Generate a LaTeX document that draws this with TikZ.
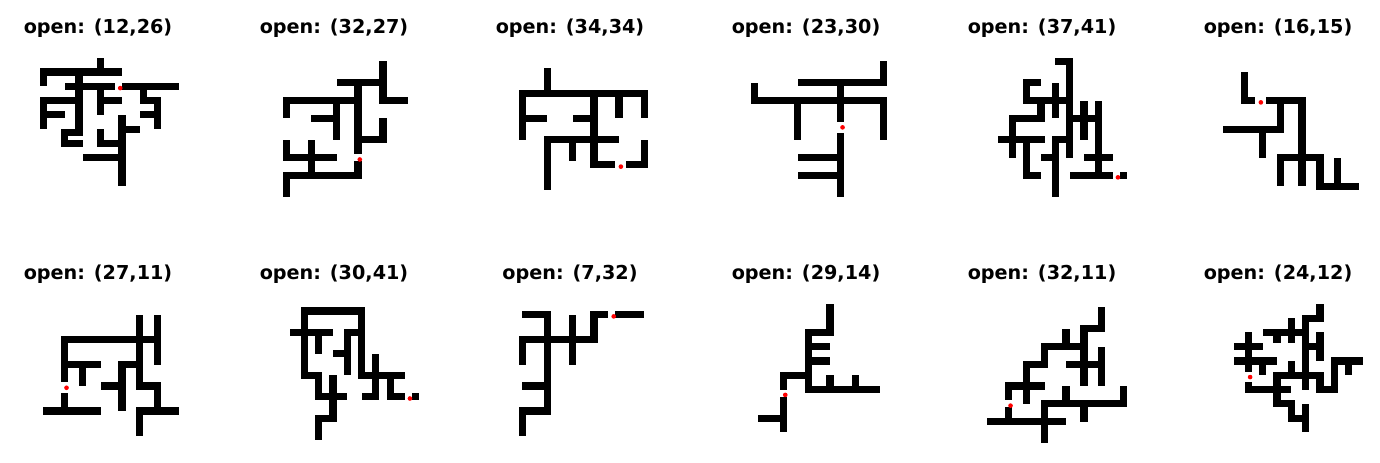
\documentclass[tikz,border=0pt]{standalone}
\usepackage{fontspec}
\setmainfont{DejaVu Sans}
\newcommand{\Bx}[4]{\fill (#1,#2) rectangle (#3,#4);}
\newcommand{\RedDot}[2]{\fill[red] (#2+0.5,#1+0.5) circle (0.65);}
\tikzset{
  ttl/.style={font=\fontsize{9.6}{11}\selectfont\bfseries, anchor=base, inner sep=0pt},
  panel/.style={x=1.79pt, y=-1.785pt}
}
\begin{document}
\begin{tikzpicture}[x=0.5pt,y=-0.5pt]
\useasboundingbox[fill=white] (0,0) rectangle (1380,462);
% titles
\node[ttl] (t1) at (98,33) {open: (12,26)};
\node[ttl] (t2) at (334,33) {open: (32,27)};
\node[ttl] (t3) at (570,33) {open: (34,34)};
\node[ttl] (t4) at (806,33) {open: (23,30)};
\node[ttl] (t5) at (1042,33) {open: (37,41)};
\node[ttl] (t6) at (1278,33) {open: (16,15)};
\node[ttl] (t7) at (98,279) {open: (27,11)};
\node[ttl] (t8) at (334,279) {open: (30,41)};
\node[ttl] (t9) at (570,279) {open: (7,32)};
\node[ttl] (t10) at (806,279) {open: (29,14)};
\node[ttl] (t11) at (1042,279) {open: (32,11)};
\node[ttl] (t12) at (1278,279) {open: (24,12)};
% panel 1
\begin{scope}[shift={(25.35,43.45)},panel]
\Bx{20}{4}{22}{7} \Bx{4}{7}{27}{9} \Bx{4}{7}{6}{12} \Bx{11}{11}{25}{13}
\Bx{14}{7}{16}{26} \Bx{20}{11}{22}{20} \Bx{20}{15}{27}{17} \Bx{27}{11}{43}{13}
\Bx{32}{13}{34}{17} \Bx{32}{15}{38}{17} \Bx{36}{15}{38}{24} \Bx{32}{19}{38}{21}
\Bx{4}{15}{16}{17} \Bx{4}{15}{6}{24} \Bx{4}{19}{11}{21}
\Bx{10}{24}{16}{26} \Bx{10}{24}{12}{29} \Bx{10}{27}{16}{29}
\Bx{26}{20}{28}{40} \Bx{26}{23}{32}{25} \Bx{20}{24}{22}{29} \Bx{20}{27}{28}{29}
\Bx{16}{31}{28}{33}
\RedDot{12}{26}
\end{scope}
% panel 2
\begin{scope}[shift={(261.35,43.45)},panel]
\Bx{33}{5}{35}{16} \Bx{33}{15}{41}{17} \Bx{21}{10}{35}{12} \Bx{26}{10}{28}{31}
\Bx{6}{15}{28}{17} \Bx{6}{15}{8}{21} \Bx{20}{16}{22}{27} \Bx{14}{20}{22}{22}
\Bx{33}{21}{35}{28} \Bx{28}{26}{35}{28} \Bx{6}{27}{8}{33} \Bx{6}{31}{21}{33}
\Bx{13}{27}{15}{36} \Bx{6}{36}{28}{38} \Bx{6}{36}{8}{43} \Bx{26}{33}{28}{38}
\RedDot{32}{27}
\end{scope}
% panel 3
\begin{scope}[shift={(497.35,43.45)},panel]
\Bx{13}{7}{15}{14} \Bx{6}{13}{42}{15} \Bx{6}{13}{8}{27} \Bx{8}{20}{14}{22}
\Bx{21}{20}{28}{22} \Bx{26}{13}{28}{35} \Bx{33}{15}{35}{21} \Bx{40}{15}{42}{21}
\Bx{13}{26}{34}{28} \Bx{13}{26}{15}{41} \Bx{20}{28}{22}{33} \Bx{26}{33}{33}{35}
\Bx{36}{33}{42}{35} \Bx{40}{27}{42}{35}
\RedDot{34}{34}
\end{scope}
% panel 4
\begin{scope}[shift={(733.35,43.45)},panel]
\Bx{41}{5}{43}{12} \Bx{18}{10}{43}{12} \Bx{29}{12}{31}{22} \Bx{5}{11}{7}{17}
\Bx{5}{15}{43}{17} \Bx{17}{17}{19}{27} \Bx{41}{17}{43}{27} \Bx{29}{25}{31}{43}
\Bx{18}{31}{29}{33} \Bx{18}{36}{29}{38}
\RedDot{23}{30}
\end{scope}
% panel 5
\begin{scope}[shift={(969.35,43.45)},panel]
\Bx{24}{4}{29}{6} \Bx{27}{4}{29}{32} \Bx{15}{10}{20}{12} \Bx{15}{10}{17}{17}
\Bx{15}{15}{27}{17} \Bx{23}{11}{25}{21} \Bx{19}{15}{21}{22} \Bx{11}{20}{21}{22}
\Bx{11}{20}{13}{32} \Bx{8}{26}{21}{28} \Bx{15}{26}{17}{38} \Bx{15}{36}{20}{38}
\Bx{31}{16}{33}{27} \Bx{35}{16}{37}{37} \Bx{27}{20}{37}{22} \Bx{23}{26}{29}{28}
\Bx{23}{26}{25}{43} \Bx{20}{31}{25}{33} \Bx{32}{31}{40}{33} \Bx{28}{36}{40}{38}
\Bx{42}{36}{44}{38}
\RedDot{37}{41}
\end{scope}
% panel 6
\begin{scope}[shift={(1205.35,43.45)},panel]
\Bx{10}{8}{12}{17} \Bx{10}{15}{14}{17} \Bx{17}{15}{28}{17} \Bx{20}{15}{22}{25}
\Bx{26}{15}{28}{33} \Bx{5}{23}{22}{25} \Bx{15}{23}{17}{32} \Bx{20}{31}{33}{33}
\Bx{20}{31}{22}{40} \Bx{26}{31}{28}{40} \Bx{31}{31}{33}{41} \Bx{31}{39}{43}{41}
\Bx{36}{32}{38}{41}
\RedDot{16}{15}
\end{scope}
% panel 7
\begin{scope}[shift={(25.35,289.6)},panel]
\Bx{31}{7}{33}{28} \Bx{36}{7}{38}{21} \Bx{10}{13}{38}{15} \Bx{10}{13}{12}{26}
\Bx{10}{20}{21}{22} \Bx{15}{20}{17}{27} \Bx{26}{20}{33}{22} \Bx{26}{20}{28}{34}
\Bx{21}{26}{28}{28} \Bx{31}{26}{38}{28} \Bx{36}{26}{38}{35} \Bx{31}{33}{43}{35}
\Bx{31}{33}{33}{41} \Bx{10}{29}{12}{35} \Bx{5}{33}{21}{35}
\RedDot{27}{11}
\end{scope}
% panel 8
\begin{scope}[shift={(261.35,289.6)},panel]
\Bx{11}{5}{29}{7} \Bx{11}{5}{13}{25} \Bx{11}{23}{17}{25} \Bx{15}{23}{17}{31}
\Bx{27}{5}{29}{24} \Bx{27}{23}{40}{25} \Bx{8}{11}{20}{13} \Bx{15}{11}{17}{18}
\Bx{23}{11}{28}{13} \Bx{23}{11}{25}{24} \Bx{20}{17}{25}{19} \Bx{31}{18}{33}{30}
\Bx{28}{29}{33}{31} \Bx{19}{24}{21}{37} \Bx{15}{29}{24}{31} \Bx{35}{24}{37}{31}
\Bx{35}{29}{40}{31} \Bx{42}{29}{44}{31} \Bx{15}{35}{21}{37} \Bx{15}{35}{17}{42}
\RedDot{30}{41}
\end{scope}
% panel 9
\begin{scope}[shift={(497.35,289.6)},panel]
\Bx{7}{6}{15}{8} \Bx{13}{6}{15}{35} \Bx{20}{7}{22}{21} \Bx{26}{6}{31}{8}
\Bx{26}{6}{28}{15} \Bx{6}{13}{28}{15} \Bx{6}{13}{8}{21} \Bx{33}{6}{41}{8}
\Bx{7}{26}{15}{28} \Bx{6}{33}{15}{35} \Bx{6}{33}{8}{41}
\RedDot{7}{32}
\end{scope}
% panel 10
\begin{scope}[shift={(733.35,289.6)},panel]
\Bx{26}{4}{28}{13} \Bx{20}{11}{28}{13} \Bx{20}{11}{22}{29} \Bx{22}{15}{27}{17}
\Bx{22}{19}{27}{21} \Bx{13}{23}{22}{25} \Bx{13}{23}{15}{28} \Bx{20}{27}{41}{29}
\Bx{26}{24}{28}{29} \Bx{33}{24}{35}{29} \Bx{13}{30}{15}{40} \Bx{7}{35}{15}{37}
\RedDot{29}{14}
\end{scope}
% panel 11
\begin{scope}[shift={(969.35,289.6)},panel]
\Bx{36}{5}{38}{12} \Bx{31}{10}{38}{12} \Bx{31}{10}{33}{27} \Bx{26}{11}{28}{17}
\Bx{20}{15}{33}{17} \Bx{20}{15}{22}{22} \Bx{15}{20}{22}{22} \Bx{15}{20}{17}{32}
\Bx{27}{20}{38}{22} \Bx{36}{16}{38}{27} \Bx{10}{26}{21}{28} \Bx{10}{26}{12}{31}
\Bx{10}{33}{12}{37} \Bx{5}{36}{27}{38} \Bx{20}{31}{22}{43} \Bx{20}{31}{44}{33}
\Bx{26}{27}{28}{31} \Bx{31}{33}{33}{37} \Bx{42}{27}{44}{33}
\RedDot{32}{11}
\end{scope}
% panel 12
\begin{scope}[shift={(1205.35,289.6)},panel]
\Bx{31}{4}{33}{9} \Bx{27}{7}{33}{9} \Bx{27}{7}{29}{28} \Bx{23}{8}{25}{15}
\Bx{16}{11}{29}{13} \Bx{19}{11}{21}{15} \Bx{31}{12}{33}{20} \Bx{29}{15}{33}{17}
\Bx{11}{12}{13}{23} \Bx{8}{15}{16}{17} \Bx{8}{19}{20}{21} \Bx{15}{19}{17}{24}
\Bx{23}{20}{25}{24} \Bx{19}{23}{33}{25} \Bx{31}{23}{33}{29} \Bx{31}{27}{37}{29}
\Bx{35}{19}{37}{29} \Bx{35}{19}{44}{21} \Bx{39}{19}{41}{24} \Bx{19}{23}{21}{33}
\Bx{11}{27}{24}{29} \Bx{11}{26}{13}{29} \Bx{19}{31}{25}{33} \Bx{23}{31}{25}{37}
\Bx{23}{35}{29}{37} \Bx{27}{32}{29}{40}
\RedDot{24}{12}
\end{scope}
\end{tikzpicture}
\end{document}
